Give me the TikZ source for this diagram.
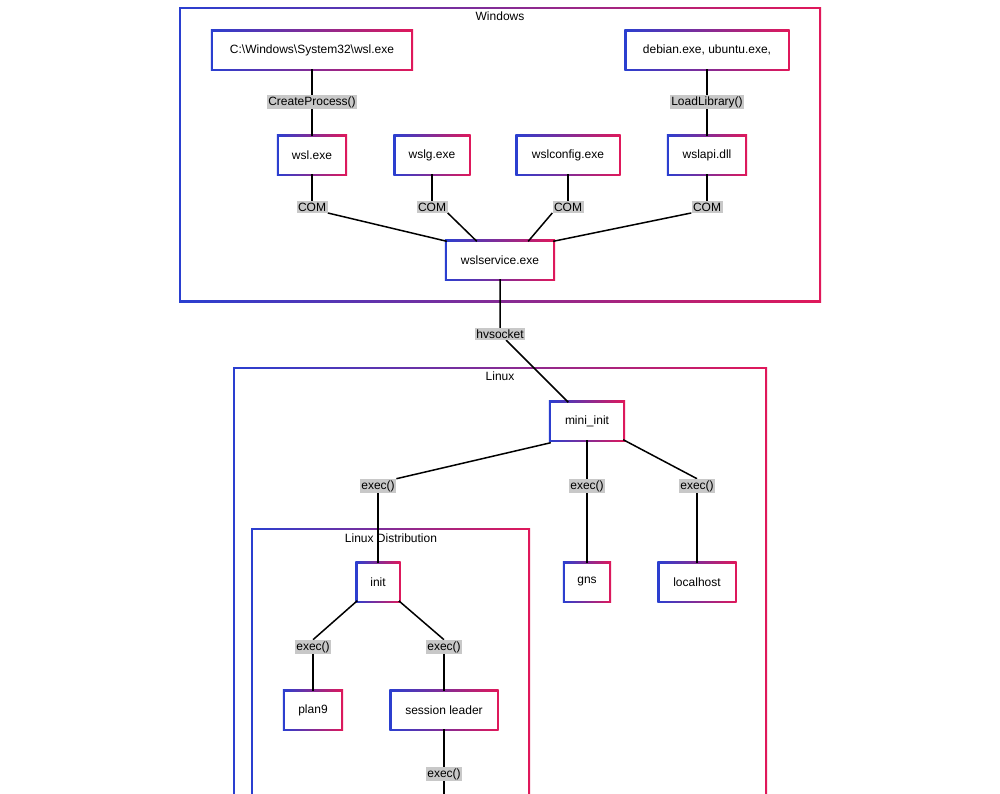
\documentclass[tikz,border=0pt]{standalone}
\usepackage{fontspec}
\setmainfont{Liberation Sans}
\usetikzlibrary{backgrounds}
\definecolor{gb}{HTML}{2A3FD0}
\definecolor{gr}{HTML}{E0185A}
\definecolor{lg}{HTML}{C8C8C8}
\tikzset{
  box/.style={fill=white,minimum height=37pt,inner xsep=9pt,font=\fontsize{12}{14}\selectfont},
  lab/.style={fill=lg,inner sep=1.5pt,font=\fontsize{12}{14}\selectfont},
  ttl/.style={font=\fontsize{12}{14}\selectfont},
  ln/.style={line width=1.5pt}
}
\newcommand{\gframe}[4]{%
  \shade[left color=gb,right color=gr] (#1,#2) rectangle (#3,#4);
  \fill[white] (#1+2,#2+2) rectangle (#3-2,#4-2);}
\begin{document}
\begin{tikzpicture}[x=1pt,y=-1pt]
\useasboundingbox (0,0) rectangle (1000,793);
\begin{scope}[on background layer]
\fill[white] (0,0) rectangle (1000,793);
\gframe{179}{7}{821}{302}
\gframe{233}{367}{767}{830}
\gframe{251}{528}{530}{830}
\end{scope}
\node[ttl] (tw) at (500,16) {Windows};
\node[ttl] (tl) at (500,376) {Linux};
\node[ttl] (td) at (391,538) {Linux Distribution};
\node[box,minimum width=198pt] (cw) at (312,50) {C:\textbackslash Windows\textbackslash System32\textbackslash wsl.exe};
\node[box,minimum width=161pt] (deb) at (707,50) {debian.exe, ubuntu.exe,};
\node[box,minimum width=66pt] (wsl) at (312,155) {wsl.exe};
\node[box,minimum width=73pt] (wslg) at (432,155) {wslg.exe};
\node[box,minimum width=101pt] (wcfg) at (568,155) {wslconfig.exe};
\node[box,minimum width=76pt] (wapi) at (707,155) {wslapi.dll};
\node[box,minimum width=106pt] (svc) at (500,260) {wslservice.exe};
\node[box,minimum width=72pt] (mini) at (587,421) {mini\_init};
\node[box,minimum width=41pt] (init) at (378,582) {init};
\node[box,minimum width=44pt] (gns) at (587,582) {gns};
\node[box,minimum width=75pt] (lh) at (697,582) {localhost};
\node[box,minimum width=56pt] (p9) at (313,710) {plan9};
\node[box,minimum width=105pt] (sl) at (444,710) {session leader};
\coordinate (bot) at (444,800);
\begin{scope}[on background layer]
\foreach \n in {cw,deb,wsl,wslg,wcfg,wapi,svc,mini,init,gns,lh,p9,sl}{
  \shade[left color=gb,right color=gr] ([shift={(-2,-2)}]\n.north west) rectangle ([shift={(2,2)}]\n.south east);}
\end{scope}
\node[lab] (cp) at (312,102) {CreateProcess()};
\node[lab] (ll) at (707,102) {LoadLibrary()};
\node[lab] (c1) at (312,207) {COM};
\node[lab] (c2) at (432,207) {COM};
\node[lab] (c3) at (568,207) {COM};
\node[lab] (c4) at (707,207) {COM};
\node[lab] (hv) at (500,334) {hvsocket};
\node[lab] (e1) at (378,486) {exec()};
\node[lab] (e2) at (587,486) {exec()};
\node[lab] (e3) at (697,486) {exec()};
\node[lab] (e4) at (313,647) {exec()};
\node[lab] (e5) at (444,647) {exec()};
\node[lab] (e6) at (444,774) {exec()};
\begin{scope}[on background layer]
\draw[ln] (cw) -- (cp) -- (wsl);
\draw[ln] (deb) -- (ll) -- (wapi);
\draw[ln] (wsl) -- (c1); \draw[ln] (c1.south east) -- (svc.north west);
\draw[ln] (wslg) -- (c2); \draw[ln] (c2.south east) -- ([xshift=30pt]svc.north west);
\draw[ln] (wcfg) -- (c3); \draw[ln] (c3.south west) -- ([xshift=-25pt]svc.north east);
\draw[ln] (wapi) -- (c4); \draw[ln] (c4.south west) -- (svc.north east);
\draw[ln] (svc) -- (hv) -- (mini);
\draw[ln] ([yshift=-3pt]mini.south west) -- (e1.north east);
\draw[ln] (e1) -- (init);
\draw[ln] (mini) -- (e2) -- (gns);
\draw[ln] (mini.south east) -- (e3.north);
\draw[ln] (e3) -- (lh);
\draw[ln] (init.south west) -- (e4.north);
\draw[ln] (e4) -- (p9);
\draw[ln] (init.south east) -- (e5.north);
\draw[ln] (e5) -- (sl);
\draw[ln] (sl) -- (e6) -- (bot);
\end{scope}
\end{tikzpicture}
\end{document}
